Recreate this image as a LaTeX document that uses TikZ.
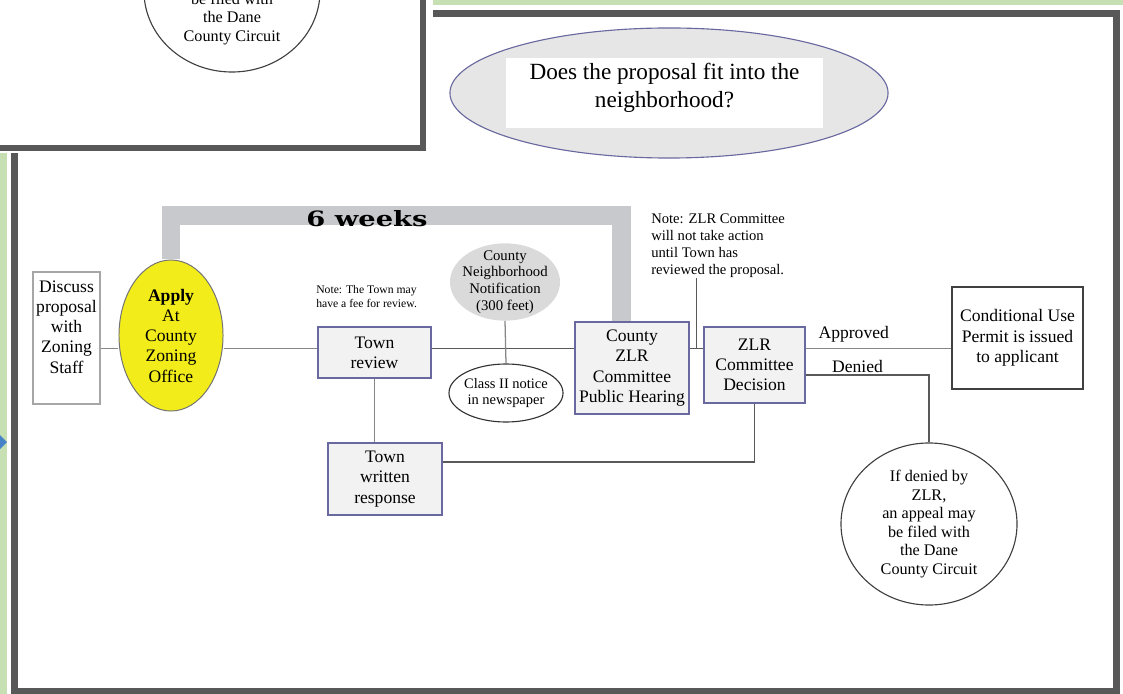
\documentclass[tikz,border=0pt]{standalone}
\usepackage{fontspec}
\setmainfont{Liberation Serif}
\newfontfamily\weekfont{DejaVu Serif}
\usepackage{graphicx}
\usetikzlibrary{shapes.geometric, positioning, backgrounds, calc}
\definecolor{colFrame}{RGB}{88,88,88}
\definecolor{colGreen}{RGB}{198,224,180}
\definecolor{colBar}{RGB}{200,201,204}
\definecolor{colApply}{RGB}{242,236,26}
\definecolor{colFill}{RGB}{242,242,242}
\definecolor{colEdge}{RGB}{105,105,160}
\definecolor{colLine}{RGB}{135,135,135}
\definecolor{colOval}{RGB}{230,230,230}
\definecolor{colNotif}{RGB}{218,218,218}
\definecolor{colTip}{RGB}{70,130,200}
\tikzset{
  box/.style={
    rectangle, draw=colEdge, fill=colFill, line width=0.9pt,
    align=center, inner sep=0pt,
    font=\fontsize{12.5}{14.4}\selectfont
  },
  plainBox/.style={box, fill=white, draw=black!35},
  permitBox/.style={box, fill=white, draw=black!75},
  oval/.style={ellipse, inner sep=-3pt, align=center},
  applyOval/.style={oval, fill=colApply, draw=black!55, line width=0.7pt,
    font=\fontsize{12.5}{14.4}\selectfont},
  notifOval/.style={oval, fill=colNotif, font=\fontsize{10.5}{11.9}\selectfont},
  newsOval/.style={oval, fill=white, draw=black!80, line width=0.8pt,
    font=\fontsize{10.3}{11.9}\selectfont},
  appealCircle/.style={oval, fill=white, draw=black!75, line width=0.8pt,
    minimum width=4.4cm, minimum height=4.05cm,
    font=\fontsize{11.5}{13.2}\selectfont},
  questionOval/.style={ellipse, fill=colOval, draw=colEdge, line width=0.8pt,
    minimum width=10.95cm, minimum height=3.25cm},
  questionText/.style={rectangle, fill=white, align=center, inner sep=0pt,
    minimum width=7.925cm, text height=1.225cm, text depth=0.525cm,
    font=\fontsize{16.5}{19.9}\selectfont},
  noteText/.style={align=left, inner sep=0pt},
  edgeLabel/.style={font=\fontsize{12.5}{14.4}\selectfont, inner sep=2pt},
  weekLabel/.style={inner sep=0pt, font=\weekfont\bfseries},
  frameLine/.style={draw=colFrame, line width=4.3pt},
  weekBar/.style={draw=colBar, line width=13.5pt},
  link/.style={draw=colLine, line width=0.9pt},
  linkDark/.style={link, draw=black!65},
}
\begin{document}
\begin{tikzpicture}[x=0.025cm, y=-0.025cm]
\useasboundingbox (0,0) rectangle (1123,694);
\clip (0,0) rectangle (1123,694);

% ---- Page frames ----------------------------------------------
\fill[colGreen] (433,0) rectangle (1123,5);
\fill[colGreen] (0,151) rectangle (7,694);
\fill[colTip] (0,435) -- (7,442) -- (0,449) -- cycle;
\draw[frameLine] (14.5,100) -- (14.5,691.5) -- (1116.5,691.5) -- (1116.5,13.5) -- (400,13.5);
\fill[white] (-10,-10) rectangle (433,153);
\draw[frameLine] (-10,148) -- (423,148) -- (423,-10);
\begin{scope}
  \clip (-10,-10) rectangle (420,145);
  \node[appealCircle] (appealTop) at (232,-9) {If denied by\\ZLR,\\an appeal may\\be filed with\\the Dane\\County Circuit};
\end{scope}

% ---- Question -------------------------------------------------
\node[questionOval] (question) at (669,93) {};
\node[questionText, anchor=north] (questionTxt) at (664.5,58) {Does the proposal fit into the\\neighborhood?};

% ---- Nodes ----------------------------------------------------
\node[plainBox, minimum width=1.675cm, text height=2.525cm, text depth=0.775cm] (discuss) at (66.5,338) {Discuss\\proposal\\with\\Zoning\\Staff};
\node[applyOval, minimum width=2.6cm, minimum height=3.775cm] (apply) at (171,335.5) {\textbf{Apply}\\At\\County\\Zoning\\Office};
\node[box, minimum width=2.825cm, minimum height=1.275cm] (townRev) at (374.5,352.5) {Town\\review};
\node[notifOval, minimum width=2.75cm, minimum height=1.85cm] (notif) at (505,282) {County\\Neighborhood\\Notification\\(300 feet)};
\node[newsOval, minimum width=2.85cm, minimum height=1.45cm] (classNotice) at (506,393) {Class II notice\\in newspaper};
\node[box, minimum width=2.85cm, minimum height=2.3cm] (hearing) at (632,368) {County\\ZLR\\Committee\\Public Hearing};
\node[box, minimum width=2.525cm, minimum height=1.9cm] (decision) at (754.5,365) {ZLR\\Committee\\Decision};
\node[permitBox, minimum width=3.275cm, minimum height=2.55cm] (permit) at (1017.5,338) {Conditional Use\\Permit is issued\\to applicant};
\node[box, minimum width=2.85cm, minimum height=1.8cm] (townWr) at (385,479) {Town\\written\\response};
\node[appealCircle] (appeal) at (929,524) {If denied by\\ZLR,\\an appeal may\\be filed with\\the Dane\\County Circuit};

% ---- Notes ----------------------------------------------------
\node[noteText, anchor=west, font=\fontsize{8.3}{10}\selectfont] (townNote) at (316,297) {Note: The Town may\\have a fee for review.};
\node[noteText, anchor=west, font=\fontsize{10.4}{12.1}\selectfont] (zlrNote) at (651,246) {Note: ZLR Committee\\will not take action\\until Town has\\reviewed the proposal.};

% ---- 6 weeks bracket ------------------------------------------
\coordinate (barTop) at (621,215.5);
\begin{scope}[on background layer]
  \draw[weekBar] (apply.north) |- (barTop) -- (barTop |- hearing.north);
\end{scope}
\node[weekLabel, anchor=base west] (weeks) at (306,227) {\resizebox{3.03cm}{0.4cm}{6 weeks}};

% ---- Connectors -----------------------------------------------
\coordinate (railMain) at (0,348.5);
\coordinate (railDeny) at (0,375);
\coordinate (railLow) at (0,462);
\coordinate (noteJoin) at ($(hearing.east)!0.5!(decision.west)$);
\draw[link] (discuss.east |- railMain) -- (apply.west |- railMain);
\draw[link] (apply.east |- railMain) -- (townRev.west |- railMain);
\draw[linkDark] (townRev.east |- railMain) -- (hearing.west |- railMain);
\draw[link] (notif.south) -- (classNotice.north);
\draw[linkDark] (hearing.east |- railMain) -- (decision.west |- railMain);
\draw[linkDark] (noteJoin |- railMain) -- (noteJoin |- zlrNote.south);
\draw[link] (decision.east |- railMain) -- node[edgeLabel, above, pos=0.33, inner sep=4pt] {Approved} (permit.west |- railMain);
\draw[linkDark] (decision.east |- railDeny) -- node[edgeLabel, above, pos=0.42, inner sep=1pt] {Denied} (appeal.north |- railDeny) -- (appeal.north);
\draw[linkDark] (decision.south) |- (townWr.east |- railLow);
\draw[link] (townRev.south) -- (townRev.south |- townWr.north);

\end{tikzpicture}
\end{document}
